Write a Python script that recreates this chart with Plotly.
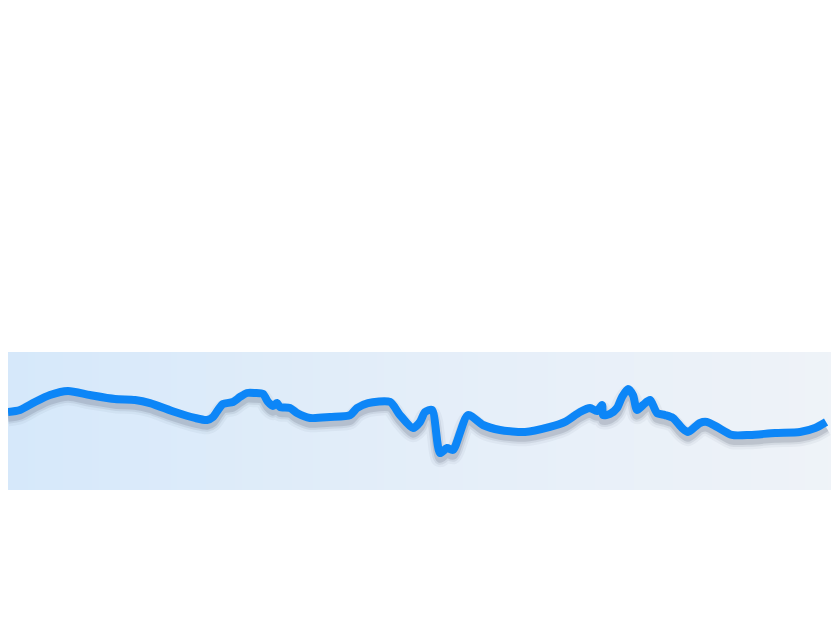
import numpy as np
import plotly.graph_objects as go

# sampled series (x in % of span, y in % of band height)
x_vals = [0, 1.46, 3.28, 5.10, 7.29, 9.96, 13.0, 15.43, 17.25, 20.29, 22.72, 24.18,
          24.91, 25.52, 26.12, 27.34, 28.19, 29.04, 30.01, 30.98, 31.59, 32.20, 32.69,
          33.05, 34.26, 35.11, 36.70, 39.13, 41.56, 42.41, 43.74, 46.42, 47.63, 49.21,
          50.06, 50.67, 51.52, 52.49, 53.34, 54.07, 55.89, 57.72, 59.78, 62.82, 65.86,
          67.68, 69.50, 70.72, 71.57, 72.18, 72.30, 73.15, 74.00, 74.61, 75.33, 75.94,
          76.43, 77.16, 78.01, 78.86, 79.83, 80.80, 81.90, 82.62, 84.08, 84.93, 86.15,
          87.97, 90.16, 93.20, 96.23, 98.06, 99.40]
y_vals = [56.5, 58.0, 63.8, 68.8, 71.7, 68.8, 65.9, 65.2, 63.0, 56.5, 52.2, 50.7,
          52.9, 58.0, 62.3, 63.8, 67.4, 70.3, 70.3, 69.6, 63.8, 60.9, 63.0,
          60.1, 59.4, 55.8, 52.2, 52.9, 54.3, 59.4, 63.0, 63.8, 54.3, 44.9,
          49.3, 56.5, 58.0, 26.8, 30.4, 29.0, 54.3, 47.1, 43.5, 42.0, 45.7,
          49.3, 56.5, 59.4, 57.2, 61.6, 54.3, 55.1, 59.4, 67.4, 73.2, 68.8,
          58.0, 61.6, 65.2, 55.8, 54.3, 52.2, 44.9, 42.0, 48.6, 49.3, 45.7,
          39.9, 39.9, 41.3, 42.0, 44.9, 49.3]

fig = go.Figure()

# soft gradient background
gx = np.linspace(-2, 102, 60)
gy = [-5, 105]
fig.add_trace(go.Heatmap(x=gx, y=gy, z=[list(gx), list(gx)],
                         colorscale=[[0, '#d5e8fa'], [0.5, '#e4eef9'], [1, '#eff3f8']],
                         showscale=False, hoverinfo='skip', zsmooth='best'))

# drop shadow
shadow_y = [v - 3.8 for v in y_vals]
for w, a in [(18, 0.05), (13, 0.09), (9, 0.15)]:
    fig.add_trace(go.Scatter(x=x_vals, y=shadow_y, mode='lines',
                             line=dict(color='rgba(60,70,90,%s)' % a, width=w,
                                       shape='spline', smoothing=0.7),
                             hoverinfo='skip', showlegend=False))

fig.add_trace(go.Scatter(x=x_vals, y=y_vals, mode='lines',
                         line=dict(color='#0d86f7', width=8, shape='spline', smoothing=0.7),
                         showlegend=False))

fig.update_layout(width=839, height=628,
                  margin=dict(l=0, r=16, t=344, b=146),
                  paper_bgcolor='white', plot_bgcolor='#e3edf8',
                  xaxis=dict(range=[0, 100], visible=False, fixedrange=True),
                  yaxis=dict(range=[0, 100], visible=False, fixedrange=True))

fig.write_html("out.html")
